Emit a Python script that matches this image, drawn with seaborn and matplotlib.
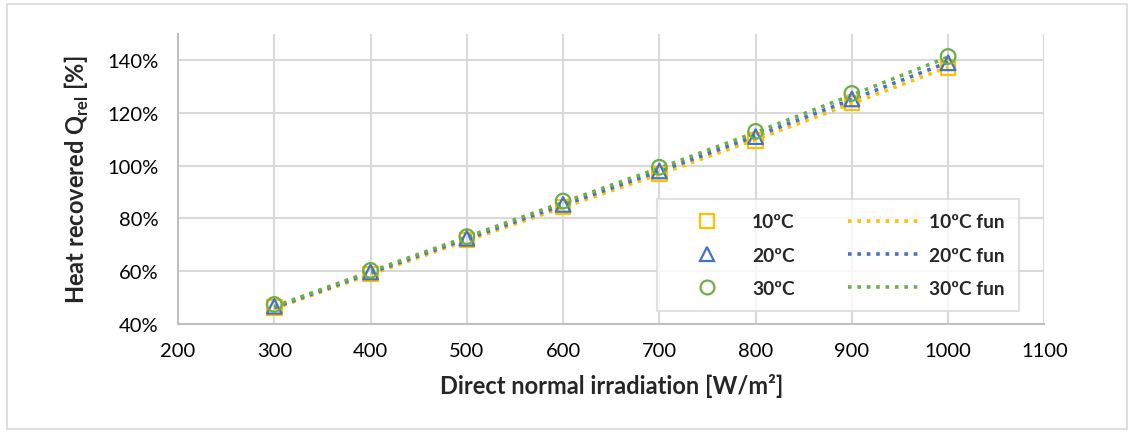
import numpy as np
import pandas as pd
import matplotlib
matplotlib.use("Agg")
import matplotlib.pyplot as plt
from matplotlib.patches import Rectangle
from matplotlib.ticker import FuncFormatter
import seaborn as sns

# data
dni = [300, 400, 500, 600, 700, 800, 900, 1000]
q_10 = [0.462, 0.590, 0.718, 0.843, 0.968, 1.096, 1.237, 1.372]
q_20 = [0.467, 0.597, 0.725, 0.853, 0.980, 1.110, 1.253, 1.390]
q_30 = [0.474, 0.603, 0.731, 0.866, 0.994, 1.130, 1.274, 1.414]
fun_10 = [0.458, 0.588, 0.716, 0.842, 0.968, 1.099, 1.236, 1.374]
fun_20 = [0.462, 0.594, 0.723, 0.851, 0.979, 1.112, 1.251, 1.392]
fun_30 = [0.466, 0.599, 0.730, 0.861, 0.991, 1.126, 1.268, 1.412]
labels = ["10ºC", "20ºC", "30ºC"]
colors = ["#FFC000", "#4472C4", "#70AD47"]
markers = ["s", "^", "o"]

sns.set_style("white")
plt.rcParams["font.family"] = ["Lato", "DejaVu Sans"]

df = pd.DataFrame({
    "dni": dni * 3,
    "q": q_10 + q_20 + q_30,
    "fun": fun_10 + fun_20 + fun_30,
    "serie": [l for l in labels for _ in dni],
})

fig = plt.figure(figsize=(11.34, 4.35), dpi=100)
ax = fig.add_axes([0.157, 0.253, 0.764, 0.667])

dots = (0, (1, 1.6))
handles_pts = []
handles_fun = []
for lab, col, mk in zip(labels, colors, markers):
    sub = df[df["serie"] == lab]
    sns.lineplot(data=sub, x="dni", y="fun", ax=ax, color=col, linestyle=dots,
                 linewidth=2.6, legend=False, zorder=2)
    sns.scatterplot(data=sub, x="dni", y="q", ax=ax, marker=mk, s=110,
                    facecolor="none", edgecolor=col, linewidth=1.6, legend=False, zorder=3)
    handles_pts.append(plt.Line2D([], [], marker=mk, linestyle="none", markersize=10,
                                  markerfacecolor="none", markeredgecolor=col, markeredgewidth=1.6))
    handles_fun.append(plt.Line2D([], [], color=col, linestyle=dots, linewidth=2.6))

ax.set_xlim(200, 1100)
ax.set_ylim(0.40, 1.50)
ax.set_xticks(range(200, 1101, 100))
ax.set_yticks(np.arange(0.4, 1.41, 0.2))
ax.yaxis.set_major_formatter(FuncFormatter(lambda v, p: f"{v * 100:.0f}%"))
ax.grid(True, color="#d9d9d9", linewidth=1.5)
ax.set_axisbelow(True)
for s in ["top", "right"]:
    ax.spines[s].set_visible(False)
for s in ["left", "bottom"]:
    ax.spines[s].set_color("#bfbfbf")
    ax.spines[s].set_linewidth(1.5)
ax.tick_params(axis="both", length=0, labelsize=14.5, labelcolor="black")
ax.tick_params(axis="y", pad=14)
ax.tick_params(axis="x", pad=13)

ax.set_xlabel("Direct normal irradiation [W/m²]", fontsize=17, fontweight="bold", labelpad=10)
ax.set_ylabel("Heat recovered Q$_{\\mathregular{rel}}$ [%]", fontsize=17, fontweight="bold", labelpad=12)

leg = ax.legend(handles_pts + handles_fun, labels + [l + " fun" for l in labels],
                ncol=2, loc="upper left", bbox_to_anchor=(0.553, 0.431), borderaxespad=0,
                frameon=True, fancybox=False, prop={"weight": "bold", "size": 13.8},
                handlelength=3.7, handletextpad=0.5, labelspacing=0.85, borderpad=0.75,
                columnspacing=2.8)
leg.get_frame().set_edgecolor("#d9d9d9")
leg.get_frame().set_linewidth(1.5)

fig.patches.append(Rectangle((0.006, 0.012), 0.988, 0.976, transform=fig.transFigure,
                             fill=False, edgecolor="#d9d9d9", linewidth=1.2))

fig.savefig("out.png", dpi=100)
